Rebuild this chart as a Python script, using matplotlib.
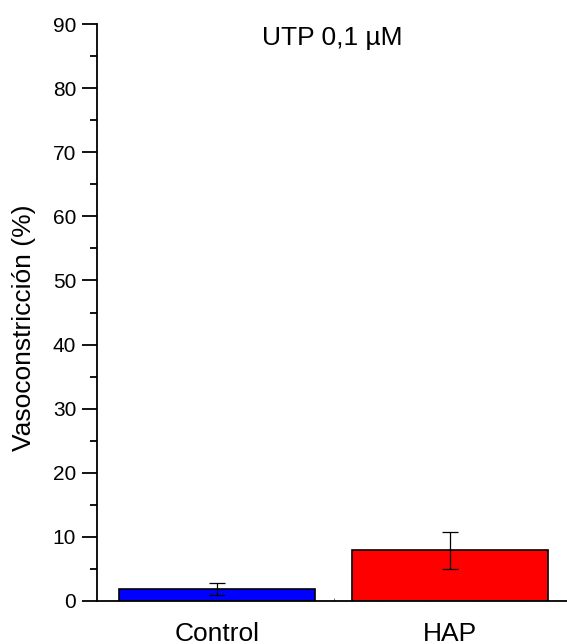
import matplotlib
matplotlib.use("Agg")
import matplotlib.pyplot as plt
import numpy as np

plt.rcParams['font.family'] = ['Liberation Sans', 'DejaVu Sans']

groups = ["Control", "HAP"]
values = [1.8, 7.9]
errors = [0.93, 2.88]
colors = ["#0000FF", "#FF0000"]

fig = plt.figure(figsize=(5.67, 6.44), dpi=100)
ax = fig.add_axes([97/567, 43/644, 470/567, 577/644])

x = np.arange(len(groups))
ax.bar(x, values, width=0.84, color=colors, edgecolor="black", linewidth=1.2, zorder=2)
ax.errorbar(x, values, yerr=errors, fmt="none", ecolor="black", elinewidth=0.9,
            capsize=6, capthick=0.9, zorder=3)

ax.set_xlim(-0.515, 1.502)
ax.set_ylim(0, 90)
ax.set_yticks(np.arange(0, 91, 10))
ax.set_yticks(np.arange(5, 90, 10), minor=True)
ax.set_xticks(x)
ax.set_xticklabels(groups, fontsize=19)
ax.set_xticks(np.arange(-0.3, 1.5, 0.2), minor=True)
ax.tick_params(axis="x", which="major", length=0, pad=15)
ax.tick_params(axis="x", which="minor", length=2, width=0.6, direction="in", colors="#555555")
ax.tick_params(axis="y", which="major", length=11, width=1.3, labelsize=15, pad=4)
ax.tick_params(axis="y", which="minor", length=5, width=1.3)

ax.spines["top"].set_visible(False)
ax.spines["right"].set_visible(False)
ax.spines["left"].set_linewidth(1.3)
ax.spines["bottom"].set_linewidth(1.3)

ax.set_ylabel("Vasoconstricción (%)", fontsize=19)
ax.yaxis.set_label_coords(-0.13, 0.473)
ax.text(0.5, 0.975, "UTP 0,1 µM", transform=ax.transAxes, fontsize=19,
        ha="center", va="center")

fig.savefig("out.png", dpi=100)
